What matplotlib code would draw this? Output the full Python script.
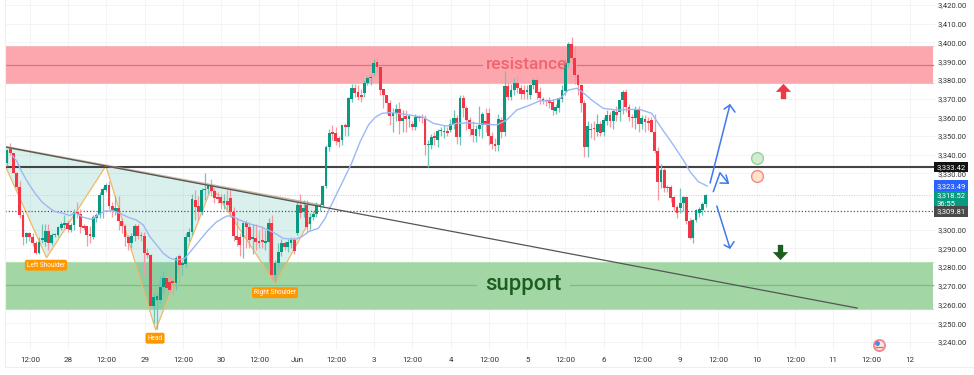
import numpy as np
import matplotlib
matplotlib.use("Agg")
import matplotlib.pyplot as plt
from matplotlib.path import Path
from matplotlib.lines import Line2D

plt.rcParams['font.family'] = ['Roboto', 'DejaVu Sans']

# one row per candle: open, high, low, close
opens = [
3335.4,3343,3340.7,3330.4,3323,3307.8,3296,3298,3296,3292.7,
3287.7,3294.5,3293.6,3299.3,3293,3297,3297,3301,3302.5,3303.7,
3300,3302.5,3309.5,3308.3,3302,3301.7,3297.5,3296,3306,3307.8,
3318.5,3321.4,3323.8,3312.6,3310,3311.4,3304.8,3302,3296,3293,
3296.6,3302,3297,3296.6,3287.7,3286.3,3259.2,3262.4,3262.4,3269.5,
3274,3272,3272,3271.3,3286,3281,3281.7,3296,3299,3315.8,
3312.6,3309.6,3321,3321.5,3323.8,3320.8,3317.5,3317.6,3314,3315.5,
3316.7,3309.6,3296.6,3296,3296,3303.7,3301.4,3295,3295.5,3294,
3294,3293,3293.6,3303.7,3275.8,3282,3288.2,3293,3290.5,3292.7,
3294.8,3298,3313,3309.6,3313,3303,3306.5,3308.3,3312.5,3313,
3323.3,3344.3,3352,3351.8,3348.7,3348,3355.9,3355,3370,3375.4,
3373.6,3372,3373.1,3378.5,3380.8,3383.5,3389.7,3387,3374.9,3371.9,
3367.8,3360.7,3362.5,3364.3,3358.2,3360.7,3359,3356.4,3354.6,3360,
3360,3359.4,3345,3345.2,3350,3347.8,3352.5,3352,3352.7,3353.2,
3356.4,3359.4,3349.3,3370.1,3364.8,3358.5,3354,3350,3354,3355.9,
3358,3362.5,3350,3346,3345.2,3358.5,3352.3,3376.7,3371,3374.6,
3378.5,3375.4,3374.6,3373.6,3371.9,3377.2,3380,3373.7,3370,3369,
3369,3368.3,3363.5,3365,3370,3374.2,3388.8,3399.1,3391.5,3382.6,
3377.2,3367.4,3344,3354,3354.3,3352.3,3356.4,3352.3,3358,3361.3,
3358,3363,3363,3369.3,3373.4,3365.7,3360.4,3359.5,3364.5,3356.3,
3359,3358,3358.5,3352.4,3342.2,3325.6,3331.9,3323,3323,3317.6,
3312,3311.4,3314,3317.6,3304.8,3295.4,3305,3309,3310.5,3313.7,
]
highs = [
3343,3346.3,3341,3331,3326,3310,3299,3299,3298,3294,
3296,3303,3303,3303,3298,3298,3302,3304,3308,3305,
3303.5,3311,3315,3311,3303,3302,3302,3308,3309,3320,
3323,3325,3326,3315,3318,3318,3306,3303,3297,3298,
3303,3303,3299,3299,3290,3287,3266,3266,3275,3278,
3276,3275,3274,3286,3287,3283,3298,3301,3319,3321,
3318,3322,3330.4,3324,3327,3322,3320,3319,3319,3321,
3322,3312,3306,3298,3304,3305,3304,3303,3303,3300,
3302,3300,3306,3308,3284,3293,3295,3294,3295,3296,
3296,3315,3319,3316,3316,3309,3310,3315,3314,3324,
3345,3354,3356,3355,3350,3356,3357,3371,3378,3378,
3377,3375,3380,3382,3383,3391,3392,3388,3375,3372,
3369,3365,3367,3368,3364,3364,3362,3358,3362,3361,
3362,3361,3348,3351,3352,3354,3355,3356,3355,3359,
3364,3361,3372,3372,3366,3360,3358,3356,3366,3363,
3365,3365,3352,3349,3362,3360,3384.5,3379,3378,3381,
3382,3377,3377,3377,3378,3381,3382,3376,3371,3370,
3371,3370,3367,3371,3377,3391,3400,3402.7,3398,3384,
3378,3369,3358,3357,3358,3362,3358,3360,3364,3363,
3364,3366,3370,3374.5,3375,3367,3362,3366,3366,3361,
3361,3360,3360,3362,3344,3335,3333,3324,3324,3318,
3313,3322,3318,3318,3306,3305.5,3311,3312,3314.5,3319,
]
lows = [
3334,3340,3330,3321,3306,3292,3293,3294,3291,3287,
3287,3293,3291,3289,3292,3296,3296,3300,3301,3299,
3299,3300,3306,3298,3300,3291,3293,3295,3304,3306,
3306,3320,3311,3307,3308,3300,3298,3291,3289,3290,
3294,3295,3294,3276,3285,3258,3250,3247,3261,3266,
3265,3266,3265,3268,3270,3276,3280,3294,3297,3305,
3305,3308,3316,3319,3318,3314,3314,3311,3311,3310,
3307,3294,3291,3286,3285,3290,3290,3287,3289,3290,
3290,3289,3282,3273,3272,3280,3286,3289,3288,3290,
3287,3297,3306,3307,3298,3300,3305,3307,3310,3312,
3322,3342,3348,3345,3344,3345,3350,3350,3368,3371,
3369,3368,3371,3377,3377,3382,3383,3372,3365,3362,
3356,3352,3358,3351,3352,3352,3355,3353,3353,3358,
3357,3340,3333.6,3343,3345,3344,3350,3349,3350,3352,
3354,3346,3345,3360,3353,3350,3347,3347,3350,3349,
3352,3345,3343,3342,3342,3349,3350,3369,3369,3372,
3373,3370,3370,3370,3370,3375,3370,3367,3367,3366,
3365,3361,3362,3363,3368,3372,3387,3389,3378,3372,
3363,3339,3339,3349,3348,3350,3350,3350,3356,3355,
3354,3358,3358,3362,3363,3358,3355,3354,3352,3354,
3352,3353,3352,3341,3316,3322,3320,3320,3315,3310,
3306,3309,3310,3303,3295,3293,3304,3307,3308,3312,
]
closes = [
3342.5,3341,3330.4,3323,3307.8,3296,3298,3296,3293,3287.7,
3293.6,3295,3299.3,3292.7,3297,3297.6,3301.2,3303,3303.7,3300.2,
3302.5,3309.6,3308.3,3301.2,3301,3297,3296.5,3306.5,3307.8,3318.5,
3321.5,3323.8,3312.6,3310.5,3311.4,3304.8,3302,3296,3293,3296.6,
3302,3296.6,3296.6,3287.7,3286.3,3259.2,3264.2,3264.7,3269.5,3274,
3268.6,3268,3271.5,3284.7,3281,3282,3296,3299,3316.2,3312.3,
3309.6,3321.2,3321.5,3323.3,3320.8,3316.7,3316.2,3314,3315.5,3313,
3309.6,3296.6,3294.5,3291.8,3303.7,3301.6,3294.5,3295.5,3293.6,3293,
3293.6,3293.6,3303.7,3275.8,3282,3288.2,3293,3290.5,3293.6,3294.5,
3288.8,3313.1,3309,3311.4,3301.6,3307,3308.3,3313.2,3313,3323.3,
3344,3351.8,3351,3347.5,3347,3355.9,3354.6,3370.1,3375.4,3373.1,
3371,3371,3378.5,3381.1,3381.7,3388.8,3387,3374.6,3371.9,3367.8,
3360.7,3362.5,3364.3,3358.2,3359.4,3358.9,3360.5,3354.6,3360,3359.5,
3359.5,3345.2,3346,3349.6,3348.7,3352.8,3352.8,3352.4,3351.8,3356.4,
3359.4,3349.6,3370.1,3364.8,3358.5,3353.7,3350.5,3354,3356,3362,
3356,3350,3346,3344.5,3358.9,3352.3,3376.7,3371,3374.6,3378.1,
3375.4,3372.2,3372.5,3374.6,3377.2,3380,3372.8,3370.1,3368.9,3368.5,
3367.8,3363.9,3365.3,3370.1,3374.6,3388.8,3399.1,3391.5,3382.6,3377.2,
3367.4,3344.3,3355.3,3353,3353.7,3356.4,3351.8,3358.6,3361.3,3358,
3363.4,3361,3369.3,3373.4,3365.7,3360.4,3359.5,3364.5,3356.3,3359.9,
3357.5,3357,3352.4,3342.2,3325.6,3331.9,3322,3322,3316.8,3312,
3309,3314.4,3317.6,3304.8,3295.4,3305.2,3310.5,3310.9,3313.7,3318.5,
]

ma_idx = [1.8,3,4.6,6.7,8.8,10.9,13,15,17.7,19.7,21.3,23.9,26.5,28.6,30.7,33.3,35.4,38,40.6,42.7,
          44.8,46.9,49,51.1,53.2,55.8,57.9,60.5,63.1,65.7,68.9,70.4,73,76.2,79.3,81.9,84,86.6,90.3,92.4,
          94.5,97.6,99.7,101.3,108,110.7,113.3,115.4,117.5,120,122.7,126.3,130.5,133.6,137.8,141,145.1,149.3,153.5,156.6,
          159.8,163.9,167.1,170.2,173.4,176,178.6,180.2,183.3,186.9,191.1,195.3,198.4,202.1,205.2,208.9,212,214.1,216.7,219.5]
ma_val = [3339.3,3336.8,3331,3324.7,3319.4,3314.9,3311.9,3309.6,3308.7,3307.5,3309,3306.6,3305.5,3307.8,3310,3310,3308.7,3306.6,3305.1,3302.5,
          3296.2,3291.8,3287.3,3284.7,3283.8,3284.7,3289.1,3294.5,3299.8,3304.2,3307.3,3307.3,3305.1,3303,3301.6,3299.8,3298,3295.3,3294.8,3296.2,
          3298.9,3300.7,3306,3311.9,3335.4,3347,3355.9,3360,3362.1,3362.5,3362.1,3361.2,3360,3356.8,3355.3,3356.8,3357.1,3356.4,3355.9,3358.5,
          3363.9,3366.5,3368.9,3368.7,3370.1,3374.6,3375.5,3373.7,3369.2,3364.8,3363.9,3364.2,3364.2,3362.1,3354.1,3345.2,3337.2,3331,3325.6,3323.3]

pattern_idx = [-0.3,-0.3,12.4,31,46.6,64.2,84.1,97.6]
pattern_val = [3344.1,3333.1,3285,3334,3246.4,3322.9,3271.3,3313.2]
trend_idx = [-0.3,266.5]
trend_val = [3344.1,3258.1]

res_zone = (3378.2,3398.1,3388)
sup_zone = (3257.6,3282.9,3270.4)
level_black = 3333.42
level_dot = 3309.81
level_last = 3318.52
level_ma = 3323.49

xtick_idx = np.arange(24)*11.99+7.2
xtick_lab = ['12:00','28','12:00','29','12:00','30','12:00','Jun','12:00','3','12:00','4','12:00','5','12:00','6','12:00','9','12:00','10','12:00','11','12:00','12']
ytick_val = [3240,3250,3260,3270,3280,3290,3300,3330,3340,3350,3360,3370,3380,3390,3400,3410,3420]

GREEN,RED = '#089981','#f23645'
fig = plt.figure(figsize=(9.74,3.75),dpi=100,facecolor='white')
ax = fig.add_axes([5/974,25/375,930/974,350/375])
ax.set_xlim(-0.63,290.9)
ax.set_ylim(3235.7,3422.67)
for s in ax.spines.values(): s.set_visible(False)
ax.yaxis.tick_right()
ax.set_yticks(ytick_val)
ax.set_yticklabels([f'{v:,.2f}' for v in ytick_val],fontsize=5.5,color='#333333')
ax.set_xticks(xtick_idx)
ax.set_xticklabels(xtick_lab,fontsize=5.8,color='#333333')
ax.tick_params(length=0,pad=2)
ax.tick_params(axis='x',pad=5)
ax.grid(True,color='#f3f3f5',lw=0.6,zorder=0)
ax.set_axisbelow(True)

# zones
for lo,hi,mid,fc,ec,ml,gap in [(*res_zone,'#fca7ae','#f8b9bd','#e0707a',(148.8,178.6)),
                          (*sup_zone,'#a2d6a4','#b6e0b7','#78c07b',(147.0,176.5))]:
    ax.fill_between([-0.63,290.3],lo,hi,color=fc,lw=0,zorder=1)
    ax.plot([-0.63,290.3],[hi,hi],color=ec,lw=0.8,zorder=1.1)
    ax.plot([-0.63,290.3],[lo,lo],color=ec,lw=0.8,zorder=1.1)
    ax.plot([-0.63,gap[0]],[mid,mid],color=ml,lw=0.9,zorder=1.2)
    ax.plot([gap[1],290.3],[mid,mid],color=ml,lw=0.9,zorder=1.2)

# pattern
ax.fill(pattern_idx,pattern_val,color='#26a69a',alpha=0.17,lw=0,zorder=1.5)
ax.plot(pattern_idx[1:],pattern_val[1:],color='#f0b868',lw=0.9,zorder=1.6)

# levels
ax.axhline(level_last,color='#a8dcd2',lw=0.7,ls=(0,(1,1.5)),zorder=1.7)
ax.axhline(level_dot,color='#555555',lw=0.9,ls=(0,(1,1.6)),zorder=1.7)
ax.axhline(level_black,color='#444444',lw=1.5,zorder=1.8)

# candles
n = len(opens)
assert n == len(highs) == len(lows) == len(closes), (n,len(highs),len(lows),len(closes))
idx = np.arange(n)
o,h,l,c = map(np.array,(opens,highs,lows,closes))
cols = [GREEN if b>=a else RED for a,b in zip(o,c)]
wick = ['#6fc4b4' if b>=a else '#f59aa3' for a,b in zip(o,c)]
ax.vlines(idx,l,h,colors=wick,lw=0.9,zorder=2)
ax.bar(idx,np.maximum(np.abs(c-o),0.8),bottom=np.minimum(o,c),width=0.88,color=cols,lw=0,zorder=2.1)

# moving average
ax.plot(ma_idx,ma_val,color='#9db8f5',lw=1.0,zorder=2.5)

# trend line
ax.plot(trend_idx,trend_val,color='#555555',lw=0.9,zorder=2.6)
ax.plot(pattern_idx[0::7],pattern_val[0::7],color='#b4a48c',lw=1.6,alpha=0.8,zorder=2.55)

# labels
ax.text(163,3388,'resistance',fontsize=12.6,color='#f2636f',ha='center',va='center',fontweight='medium',zorder=3)
ax.text(161.7,3270.8,'support',fontsize=15.8,color='#1b5e20',ha='center',va='center',fontweight='medium',zorder=3)
for x,y,t in [(12.2,3281,'Left Shoulder'),(46.4,3242,'Head'),(84,3266.3,'Right Shoulder')]:
    ax.text(x,y,t,fontsize=4.7,color='white',ha='center',va='center',zorder=4,
            bbox=dict(boxstyle='round,pad=0.3,rounding_size=0.3',fc='#ff9800',ec='none'))

# projected paths
B = '#3f78f0'
for xs,ys in [([220.4,226.6],[3324.9,3366.6]),([224.8,226.6,228.2],[3364.4,3366.6,3362.8]),
              ([221.4,223.5,226.1],[3320.3,3330.4,3324.8]),([223.5,226.1,225.4],[3324.9,3324.8,3329.2]),
              ([222.5,226.6],[3312.6,3290.2]),([224.8,226.6,227.9],[3291.8,3290.2,3293.6])]:
    ax.plot(xs,ys,color=B,lw=1.1,solid_capstyle='round',zorder=4)

up = Path([(-.35,-1),(.35,-1),(.35,-.05),(1,-.05),(0,1),(-1,-.05),(-.35,-.05),(-.35,-1)],closed=True)
down = Path([(-.35,1),(.35,1),(.35,.05),(1,.05),(0,-1),(-1,.05),(-.35,.05),(-.35,1)],closed=True)
ax.plot([243.3],[3374.1],marker=up,ms=11,color=RED,mew=0,zorder=4)
ax.plot([242.3],[3288],marker=down,ms=11,color='#1b5e20',mew=0,zorder=4)
ax.plot([235.1],[3338.4],marker='o',ms=8.5,mfc='#d3ead3',mec='#94d394',mew=1,zorder=4)
ax.plot([235.1],[3328.9],marker='o',ms=8.5,mfc='#fde3c8',mec='#f08a8a',mew=1,zorder=4)
ax.plot([273.4],[3238.4],marker='o',ms=8,mfc='#fbe9e9',mec='#f28b8b',mew=1.4,zorder=4,clip_on=False)
ax.plot([272.7],[3239.4],marker='o',ms=3.6,mfc='#4f8be0',mec='none',zorder=4.1,clip_on=False)
ax.plot([273.4],[3237.2],marker='_',ms=6,color='#e86a6a',mew=1,zorder=4.1,clip_on=False)

# price tags
ax.text(291.3,3316,f'{level_last:,.2f}\n36:55',fontsize=5.5,color='white',ha='left',va='center',zorder=5,clip_on=False,
        linespacing=1.5,bbox=dict(boxstyle='square,pad=0.3',fc=GREEN,ec='none'))
for y,txt,fc in [(level_black,f'{level_black:,.2f}','#131313'),(level_ma,f'{level_ma:,.2f}','#2962ff'),
                 (level_dot,f'{level_dot:,.2f}','#4a4a4a')]:
    ax.text(291.3,y,txt,fontsize=5.5,color='white',ha='left',va='center',zorder=6,clip_on=False,
            bbox=dict(boxstyle='square,pad=0.3',fc=fc,ec='none'))

# frame
fig.add_artist(Line2D([5/974,5/974],[8/375,1],color='#eeeeee',lw=0.8))
fig.add_artist(Line2D([5/974,1],[8/375,8/375],color='#eeeeee',lw=0.8))

fig.savefig('out.png',dpi=100,facecolor='white')
